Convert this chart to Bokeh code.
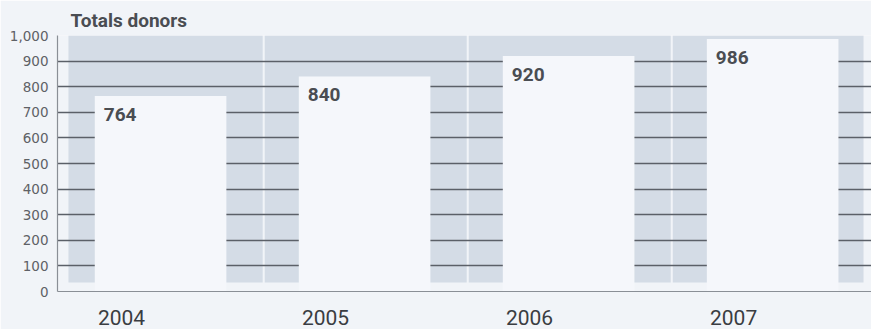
from bokeh.plotting import figure
from bokeh.models import Range1d, FixedTicker, NumeralTickFormatter
from bokeh.core.properties import value
from bokeh.embed import file_html
from bokeh.resources import INLINE

# ---- data ----
years = ["2004", "2005", "2006", "2007"]
donors = [764, 840, 920, 986]
y_ticks = [0, 100, 200, 300, 400, 500, 600, 700, 800, 900, 1000]
grid_values = [100, 200, 300, 400, 500, 600, 700, 800, 900]

BG = "#f1f4f8"
PANEL = "#d4dce6"
BAR = "#f5f7fb"
GRID = "#5b6068"
TEXT = "#4a4d52"

p = figure(width=871, height=329, output_backend="svg", toolbar_location=None,
           x_range=Range1d(-0.3137, 3.676), y_range=Range1d(0, 1000),
           min_border_left=57, min_border_right=0, min_border_top=35,
           min_border_bottom=38, background_fill_color=BG,
           border_fill_color=BG, outline_line_color=None)

idx = list(range(len(years)))

# column panels (light blue-grey backgrounds)
gap = 0.696
p_left = [-0.26] + [i - 1 + gap + 0.006 for i in idx[1:]]
p_right = [i + gap - 0.004 for i in idx[:-1]] + [3.637]
p.quad(left=p_left, right=p_right, bottom=35, top=1000,
       fill_color=PANEL, line_color=None)

# horizontal grid lines drawn over the panels, under the bars
p.hspan(y=grid_values, line_color=GRID, line_width=1.6)

# bars
bar_center = 0.1915
bar_w = 0.645
bx = [i + bar_center for i in idx]
p.vbar(x=bx, top=donors, bottom=0, width=bar_w, fill_color=BAR, line_color=None)

# value labels inside bar tops
tx = [i + bar_center - bar_w / 2 for i in idx]
p.text(x=tx, y=donors, text=[str(v) for v in donors],
       text_font=value("Roboto"), text_font_style="bold",
       text_font_size="19px", text_color=TEXT,
       text_align="left", text_baseline="top", x_offset=9, y_offset=12)

# axes
p.xgrid.visible = False
p.ygrid.visible = False

p.xaxis.ticker = FixedTicker(ticks=idx)
p.xaxis.major_label_overrides = {i: y for i, y in zip(idx, years)}
p.xaxis.major_label_text_font = "Roboto"
p.xaxis.major_label_text_font_size = "21px"
p.xaxis.major_label_text_color = "#3a3d42"
p.xaxis.major_label_standoff = 12
p.xaxis.major_tick_line_color = None
p.xaxis.minor_tick_line_color = None
p.xaxis.axis_line_color = "#8a8f96"
p.xaxis.axis_line_width = 1.2

p.yaxis.ticker = FixedTicker(ticks=y_ticks)
p.yaxis.formatter = NumeralTickFormatter(format="0,0")
p.yaxis.major_label_text_font = "DejaVu Sans"
p.yaxis.major_label_text_font_size = "13.5px"
p.yaxis.major_label_text_color = "#5e6166"
p.yaxis.major_label_standoff = 3
p.yaxis.major_tick_line_color = None
p.yaxis.minor_tick_line_color = None
p.yaxis.axis_line_color = "#8a8f96"
p.yaxis.axis_line_width = 1.2

# title
p.title.text = "Totals donors"
p.title.text_font = "Roboto"
p.title.text_font_size = "19px"
p.title.text_font_style = "bold"
p.title.text_color = "#4a4d52"
p.title.align = "left"
p.title.offset = 13
p.title.standoff = 8

open("out.html", "w").write(file_html(p, INLINE))
